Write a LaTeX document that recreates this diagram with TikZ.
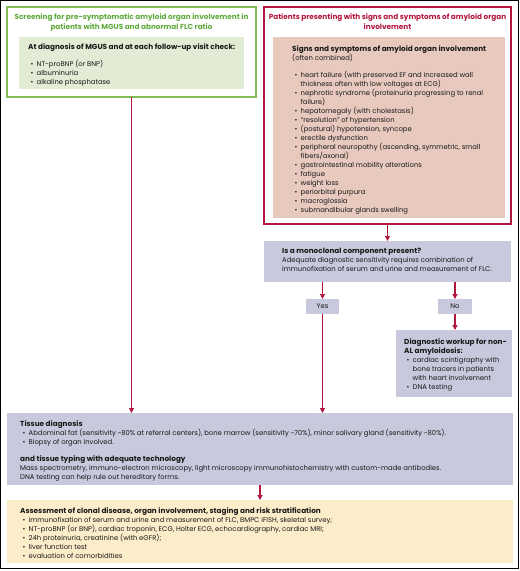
\documentclass[tikz,border=0pt]{standalone}
\usepackage{fontspec}
\setmainfont{Poppins}
\usetikzlibrary{arrows.meta}
\definecolor{grnline}{RGB}{130,188,90}
\definecolor{grntext}{RGB}{95,170,60}
\definecolor{grnfill}{RGB}{226,236,212}
\definecolor{redline}{RGB}{178,22,62}
\definecolor{redfill}{RGB}{232,201,190}
\definecolor{grayfill}{RGB}{200,201,220}
\definecolor{yelfill}{RGB}{252,237,202}
\definecolor{txt}{RGB}{25,25,25}
\newlength\mytmpw
\newcommand{\bl}{\hspace*{2.5pt}\makebox[6pt][l]{\textbullet}}
\newcommand{\ind}{\hspace*{8.5pt}}
\newcommand{\bodyfont}{\fontsize{\regsize}{9}\selectfont}
\newcommand{\hd}[1]{{\fontsize{\boldsize}{9}\selectfont\bfseries #1}}
\begin{document}
\settowidth\mytmpw{\fontsize{10}{12}\selectfont Mass spectrometry, immuno-electron microscopy, light microscopy immunohistochemistry with custom-made antibodies.}%
\pgfmathsetmacro\regsize{10*421/\mytmpw}%
\settowidth\mytmpw{\fontsize{10}{12}\selectfont\bfseries At diagnosis of MGUS and at each follow-up visit check:}%
\pgfmathsetmacro\boldsize{10*207/\mytmpw}%
\begin{tikzpicture}[x=1pt,y=1pt,
  box/.style={anchor=north west, inner sep=0pt, outer sep=0pt},
  txtnode/.style={anchor=north west, inner sep=0pt, align=left, text=txt, font=\bodyfont},
  titlenode/.style={anchor=north, inner sep=0pt, align=center, font=\fontsize{\boldsize}{9.5}\selectfont\bfseries},
  arr/.style={draw=redline, line width=1.1pt, -{Triangle[width=5pt,length=5pt]}},
  ]
\useasboundingbox (0,0) rectangle (520,-571);
\draw[black, line width=1pt] (0.5,-0.5) rectangle (518,-568);
% boxes
\node[box, draw=grnline, line width=1.5pt, minimum width=249pt, minimum height=90pt] (green) at (7,-7) {};
\node[box, fill=grnfill, minimum width=225pt, minimum height=52pt] (grnin) at (19,-37) {};
\node[box, draw=redline, line width=1.5pt, minimum width=247pt, minimum height=217pt] (red) at (264,-7) {};
\node[box, fill=redfill, minimum width=232pt, minimum height=181pt] (redin) at (273,-37) {};
\node[box, fill=grayfill, minimum width=247pt, minimum height=41pt] (q) at (264,-241) {};
\node[box, fill=grayfill, minimum width=33pt, minimum height=15pt, font=\bodyfont, text=txt] (yes) at (306,-299) {Yes};
\node[box, fill=grayfill, minimum width=34pt, minimum height=15pt, font=\bodyfont, text=txt] (no) at (438,-299) {No};
\node[box, fill=grayfill, minimum width=116pt, minimum height=67pt] (diag) at (396,-330) {};
\node[box, fill=grayfill, minimum width=506pt, minimum height=72pt] (tissue) at (7,-413) {};
\node[box, fill=yelfill, minimum width=506pt, minimum height=63pt] (assess) at (7,-500) {};
% texts
\node[titlenode, text=grntext] (gtitle) at (131.5,-13.5) {Screening for pre-symptomatic amyloid organ involvement in\\patients with MGUS and abnormal FLC ratio};
\node[titlenode, text=redline] (rtitle) at (387.5,-13.5) {Patients presenting with signs and symptoms of amyloid organ\\involvement};
\node[txtnode] (gtext) at (28,-43) {\hd{At diagnosis of MGUS and at each follow-up visit check:}\\[8pt]
\bl NT-proBNP (or BNP)\\
\bl albuminuria\\
\bl alkaline phosphatase};
\node[txtnode] (rtext) at (292,-45) {\hd{Signs and symptoms of amyloid organ involvement}\\
(often combined)\\[8pt]
\bl heart failure (with preserved EF and increased wall\\
\ind thickness often with low voltages at ECG)\\
\bl nephrotic syndrome (proteinuria progressing to renal\\
\ind failure)\\
\bl hepatomegaly (with cholestasis)\\
\bl “resolution” of hypertension\\
\bl (postural) hypotension, syncope\\
\bl erectile dysfunction\\
\bl peripheral neuropathy (ascending, symmetric, small\\
\ind fibers/axonal)\\
\bl gastrointestinal mobility alterations\\
\bl fatigue\\
\bl weight loss\\
\bl periorbital purpura\\
\bl macroglossia\\
\bl submandibular glands swelling};
\node[txtnode] (qtext) at (282,-248) {\hd{Is a monoclonal component present?}\\
Adequate diagnostic sensitivity requires combination of\\
immunofixation of serum and urine and measurement of FLC.};
\node[txtnode] (dtext) at (404,-338) {\hd{Diagnostic workup for non-}\\
\hd{AL amyloidosis:}\\
\bl cardiac scintigraphy with\\
\ind bone tracers in patients\\
\ind with heart involvement\\
\bl DNA testing};
\node[txtnode] (ttext) at (20,-420) {\hd{Tissue diagnosis}\\
\bl Abdominal fat (sensitivity \textasciitilde80\% at referral centers), bone marrow (sensitivity \textasciitilde70\%), minor salivary gland (sensitivity \textasciitilde80\%).\\
\bl Biopsy of organ involved.\\[8pt]
\hd{and tissue typing with adequate technology}\\
Mass spectrometry, immuno-electron microscopy, light microscopy immunohistochemistry with custom-made antibodies.\\
DNA testing can help rule out hereditary forms.};
\node[txtnode] (atext) at (20,-507) {\hd{Assessment of clonal disease, organ involvement, staging and risk stratification}\\
\bl immunofixation of serum and urine and measurement of FLC, BMPC iFISH, skeletal survey;\\
\bl NT-proBNP (or BNP), cardiac troponin, ECG, Holter ECG, echocardiography, cardiac MRI;\\
\bl 24h proteinuria, creatinine (with eGFR);\\
\bl liver function test\\
\bl evaluation of comorbidities};
% arrows
\draw[arr] (green.south) -- (green.south |- tissue.north);
\draw[arr] (red.south) -- (red.south |- q.north);
\draw[arr] (q.south -| yes.north) -- (yes.north);
\draw[arr] (q.south -| no.north) -- (no.north);
\draw[arr] (yes.south) -- (yes.south |- tissue.north);
\draw[arr] (no.south) -- (no.south |- diag.north);
\draw[arr] (tissue.south) -- (assess.north);
\end{tikzpicture}
\end{document}
